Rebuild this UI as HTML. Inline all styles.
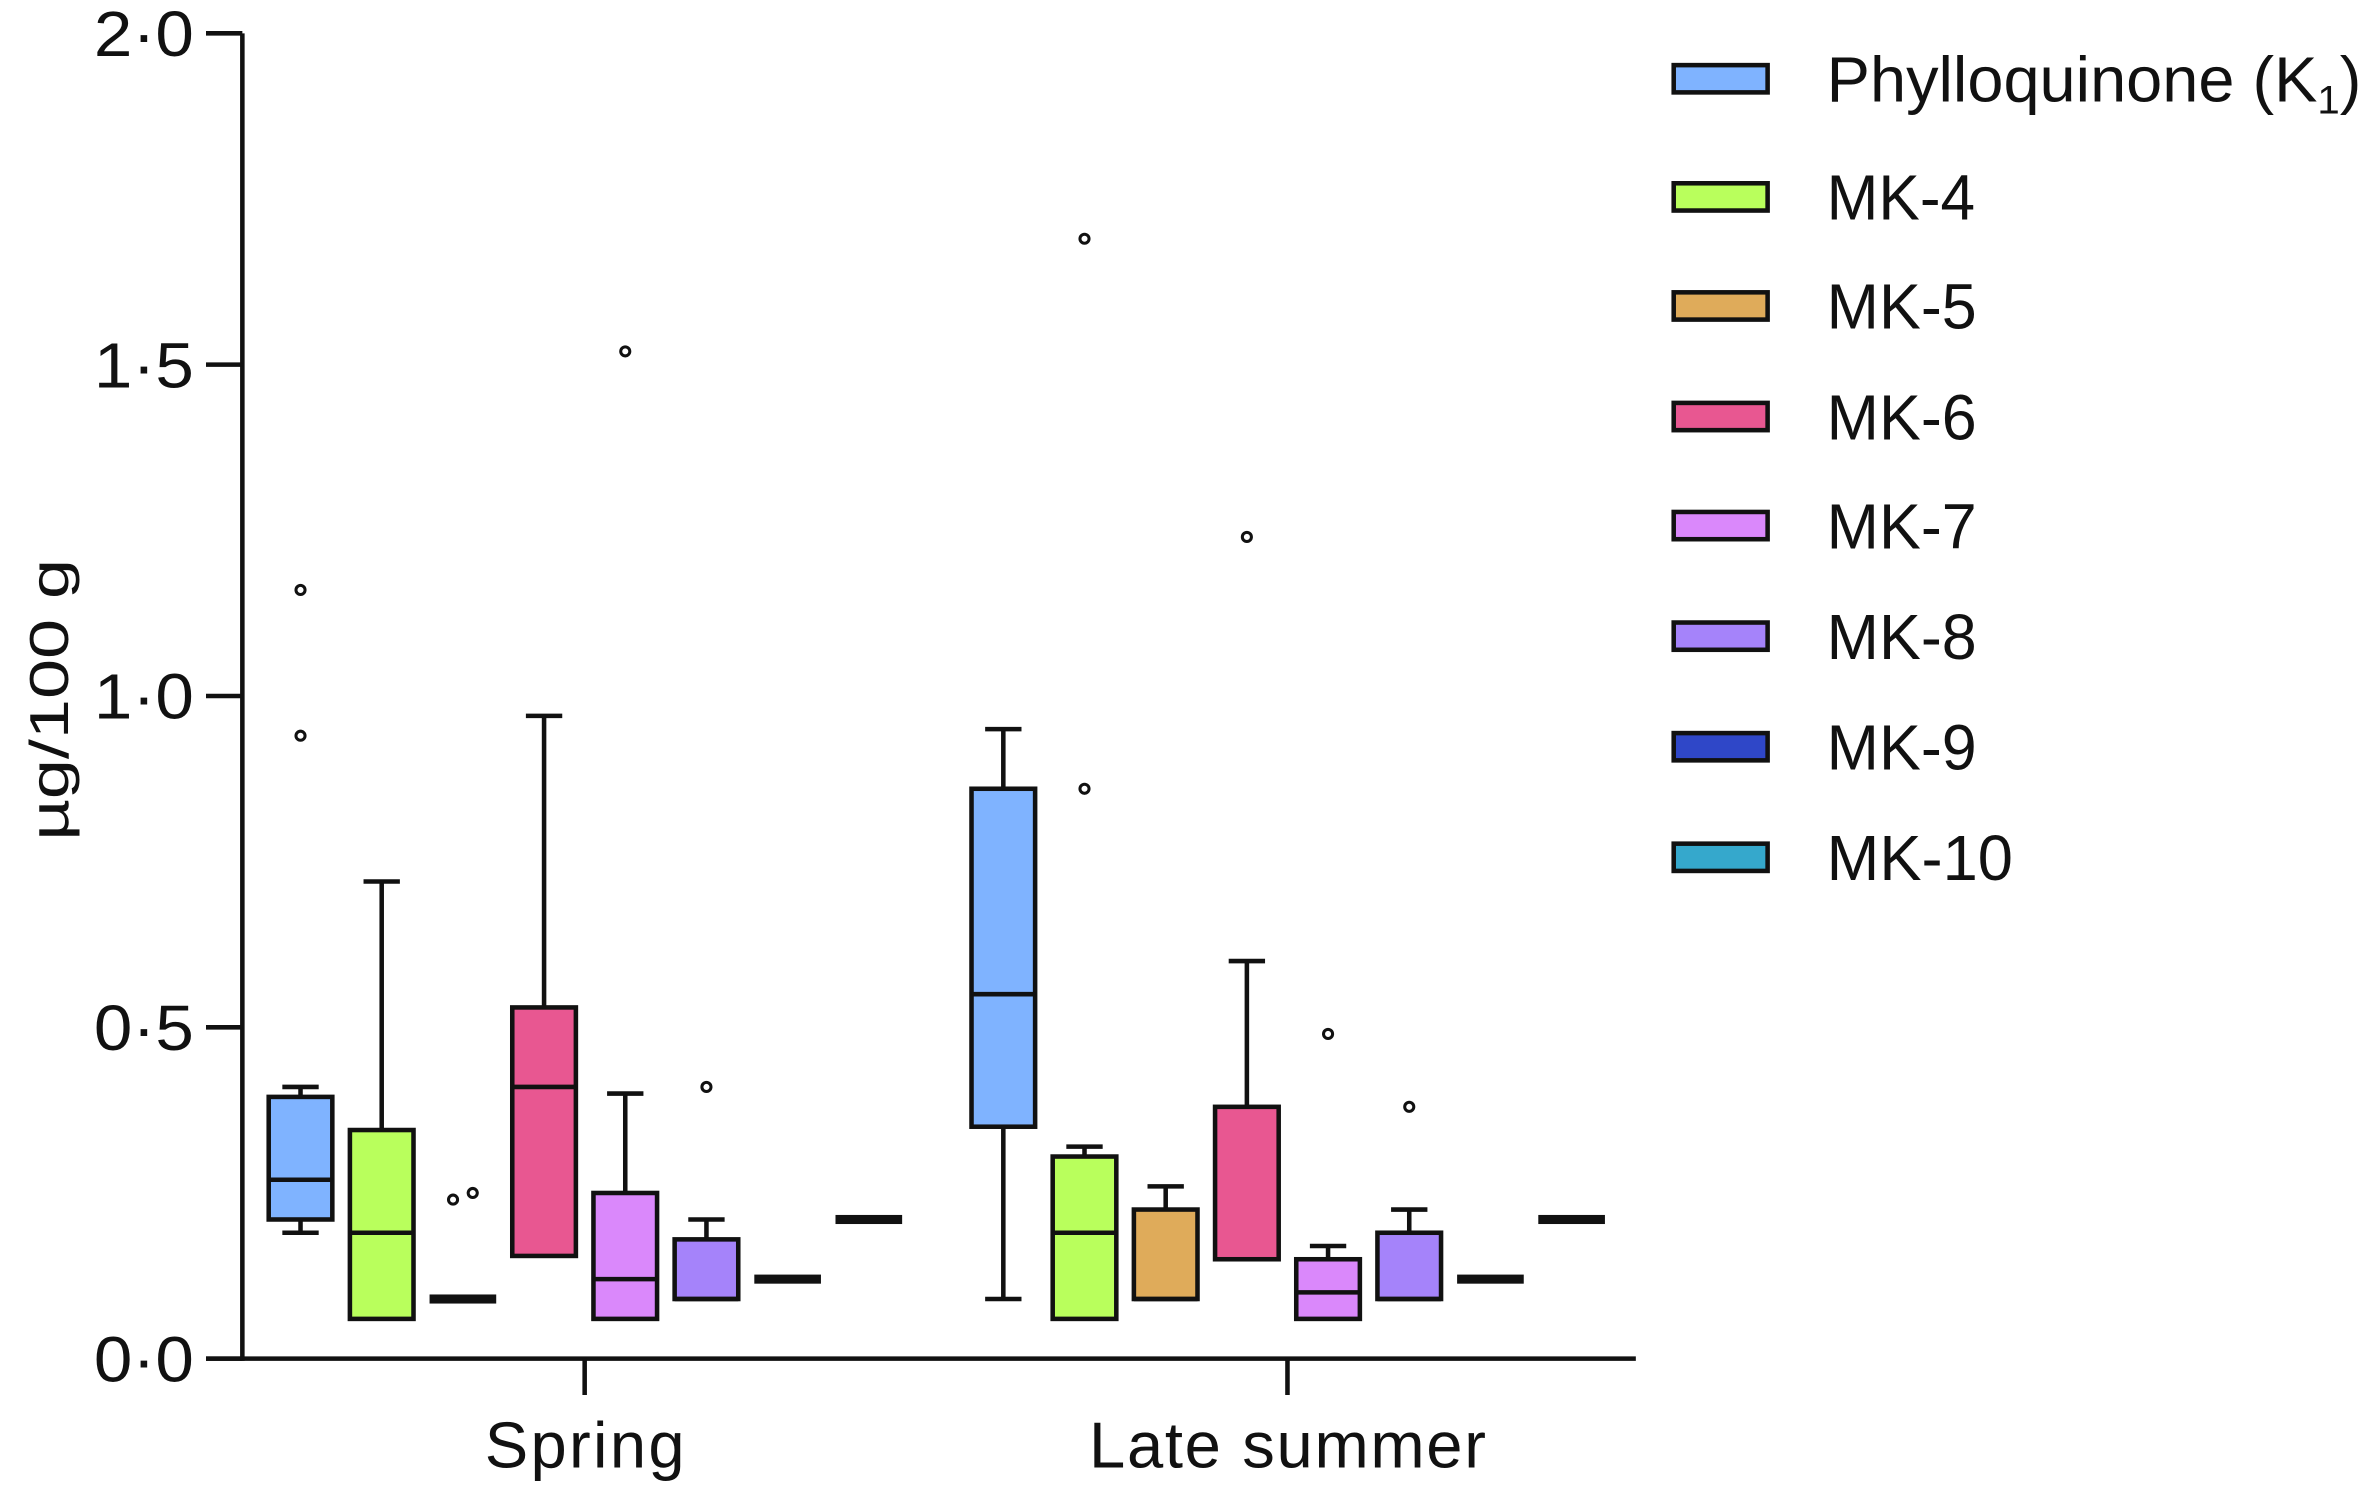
<!DOCTYPE html>
<html><head><meta charset="utf-8"><style>
html,body{margin:0;padding:0;background:#fff;}
svg{display:block;font-family:"Liberation Sans",sans-serif;}
</style></head><body>
<svg id="chart" width="2375" height="1488" viewBox="0 0 1568 982.4" xmlns="http://www.w3.org/2000/svg"></svg>
<script>
const seasons = ["Spring", "Late summer"];
const seriesNames = ["Phylloquinone (K1)", "MK-4", "MK-5", "MK-6", "MK-7", "MK-8", "MK-9", "MK-10"];
const seriesColors = ["#7fb3ff", "#b9ff5c", "#dfab5a", "#e85791", "#da88fb", "#a583fa", "#2f47c8", "#35a8cc"];
const yTicks = [0, 0.5, 1.0, 1.5, 2.0];
const yTickLabels = ["0·0", "0·5", "1·0", "1·5", "2·0"];
// [min, q1, median, q3, max] per season per series
const springStats = [
  [0.19, 0.21, 0.27, 0.395, 0.41],
  [0.06, 0.06, 0.19, 0.345, 0.72],
  [0.09, 0.09, 0.09, 0.09, 0.09],
  [0.155, 0.155, 0.41, 0.53, 0.97],
  [0.06, 0.06, 0.12, 0.25, 0.40],
  [0.09, 0.09, 0.09, 0.18, 0.21],
  [0.12, 0.12, 0.12, 0.12, 0.12],
  [0.21, 0.21, 0.21, 0.21, 0.21]
];
const summerStats = [
  [0.09, 0.35, 0.55, 0.86, 0.95],
  [0.06, 0.06, 0.19, 0.305, 0.32],
  [0.09, 0.09, 0.09, 0.225, 0.26],
  [0.15, 0.15, 0.15, 0.38, 0.60],
  [0.06, 0.06, 0.10, 0.15, 0.17],
  [0.09, 0.09, 0.09, 0.19, 0.225],
  [0.12, 0.12, 0.12, 0.12, 0.12],
  [0.21, 0.21, 0.21, 0.21, 0.21]
];
const springOutliers = [[1.16, 0.94], [], [0.24, 0.25], [], [1.52], [0.41], [], []];
const summerOutliers = [[], [1.69, 0.86], [], [1.24], [0.49], [0.38], [], []];

const NS = "http://www.w3.org/2000/svg";
const svg = document.getElementById("chart");
const X0 = 160, X1 = 1080, Y0 = 897, Y2 = 22;
const groupCenters = [386, 850];
const slot = 53.6, boxW = 42;
const legendRowY = [52, 130, 202, 275, 347, 420, 493, 566];
const legendTextW = [353, 98, 99, 99, 99, 99, 99, 123];
function yScale(v){ return Y0 - (v/2.0)*(Y0-Y2); }
function xScale(g, s){ return groupCenters[g] + (s - 3.5)*slot; }
function mk(tag, attrs, parent){ const e=document.createElementNS(NS,tag); for(const k in attrs) e.setAttribute(k,attrs[k]); (parent||svg).appendChild(e); return e; }

// axes
const yAxis = mk("line",{x1:X0,y1:Y2,x2:X0,y2:Y0+1.5,stroke:"#111","stroke-width":3});


const xAxis = mk("line",{x1:X0-24,y1:Y0,x2:X1,y2:Y0,stroke:"#111","stroke-width":3});


yTicks.forEach((t,i)=>{
  const y=yScale(t);
  const tk = mk("line",{x1:X0-24,y1:y,x2:X0,y2:y,stroke:"#111","stroke-width":3});
  
  
  const lb = mk("text",{x:62,y:y+15,"font-size":42,fill:"#111",textLength:66,lengthAdjust:"spacingAndGlyphs"});
  lb.textContent = yTickLabels[i];
  
  
});
const yt = mk("text",{x:0,y:0,"text-anchor":"middle","font-size":36,fill:"#111",transform:"translate(45,462) rotate(-90)",textLength:186,lengthAdjust:"spacingAndGlyphs"});
yt.textContent = "µg/100 g";


const catW = [132, 262];
seasons.forEach((s,g)=>{
  const tk = mk("line",{x1:groupCenters[g],y1:Y0,x2:groupCenters[g],y2:Y0+24,stroke:"#111","stroke-width":3});
  
  
  const lb = mk("text",{x:groupCenters[g],y:969,"text-anchor":"middle","font-size":43,fill:"#111",textLength:catW[g],lengthAdjust:"spacing"});
  lb.textContent = s;
  
  
});

// boxes
[springStats, summerStats].forEach((stats,g)=>{
  const outs = g===0 ? springOutliers : summerOutliers;
  stats.forEach((st,s)=>{
    const cx = xScale(g,s);
    const grp = mk("g",{});
    
    
    const [mn,q1,md,q3,mx] = st;
    if (q3 - q1 < 0.005) {
      mk("rect",{x:cx-boxW/2-1,y:yScale(md)-3,width:boxW+2,height:6,fill:"#111"},grp);
    } else {
      const cap = 12;
      if (mx > q3) {
        mk("line",{x1:cx,y1:yScale(q3),x2:cx,y2:yScale(mx),stroke:"#111","stroke-width":3},grp);
        mk("line",{x1:cx-cap,y1:yScale(mx),x2:cx+cap,y2:yScale(mx),stroke:"#111","stroke-width":3},grp);
      }
      if (mn < q1) {
        mk("line",{x1:cx,y1:yScale(q1),x2:cx,y2:yScale(mn),stroke:"#111","stroke-width":3},grp);
        mk("line",{x1:cx-cap,y1:yScale(mn),x2:cx+cap,y2:yScale(mn),stroke:"#111","stroke-width":3},grp);
      }
      mk("rect",{x:cx-boxW/2,y:yScale(q3),width:boxW,height:yScale(q1)-yScale(q3),fill:seriesColors[s],stroke:"#111","stroke-width":3},grp);
      mk("line",{x1:cx-boxW/2,y1:yScale(md),x2:cx+boxW/2,y2:yScale(md),stroke:"#111","stroke-width":3},grp);
    }
    outs[s].forEach((v,k)=>{
      const dx = (g===0 && s===2) ? (k-0.5)*13 : 0;
      const c = mk("circle",{cx:cx+dx,cy:yScale(v),r:3,fill:"#fff",stroke:"#111","stroke-width":2},grp);
      
      
    });
  });
});

// legend
seriesNames.forEach((n,i)=>{
  const y = legendRowY[i];
  const g = mk("g",{});
  
  
  mk("rect",{x:1105,y:y-9,width:62,height:18,fill:seriesColors[i],stroke:"#111","stroke-width":3},g);
  const t = mk("text",{x:1206,y:y+15,"font-size":42,fill:"#111",textLength:legendTextW[i],lengthAdjust:"spacingAndGlyphs"},g);
  if (i===0) {
    t.textContent = "Phylloquinone (K";
    const sub = mk("tspan",{"font-size":26,dy:8},t); sub.textContent="1";
    const cl = mk("tspan",{dy:-8},t); cl.textContent=")";
  } else t.textContent = n;
});
</script>
</body></html>
